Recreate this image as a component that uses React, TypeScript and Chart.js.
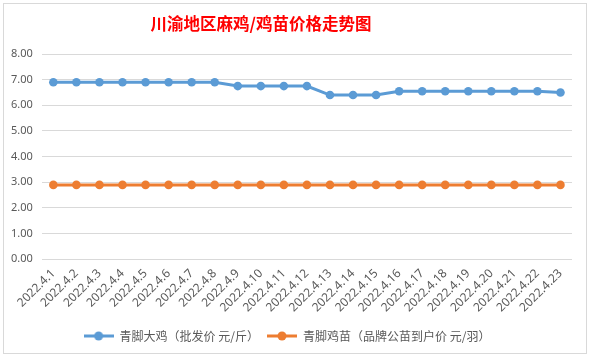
import React, { useEffect, useRef } from "react";
import { Chart, registerables } from "chart.js";

Chart.register(...registerables);

const titleText = "川渝地区麻鸡/鸡苗价格走势图";
const categories = [
  "2022.4.1", "2022.4.2", "2022.4.3", "2022.4.4", "2022.4.5", "2022.4.6",
  "2022.4.7", "2022.4.8", "2022.4.9", "2022.4.10", "2022.4.11", "2022.4.12",
  "2022.4.13", "2022.4.14", "2022.4.15", "2022.4.16", "2022.4.17", "2022.4.18",
  "2022.4.19", "2022.4.20", "2022.4.21", "2022.4.22", "2022.4.23",
];
const seriesNames = ["青脚大鸡（批发价 元/斤）", "青脚鸡苗（品牌公苗到户价 元/羽）"];
const bigChicken = [
  6.9, 6.9, 6.9, 6.9, 6.9, 6.9, 6.9, 6.9, 6.75, 6.75, 6.75, 6.75,
  6.4, 6.4, 6.4, 6.55, 6.55, 6.55, 6.55, 6.55, 6.55, 6.55, 6.5,
];
const chicks = [
  2.9, 2.9, 2.9, 2.9, 2.9, 2.9, 2.9, 2.9, 2.9, 2.9, 2.9, 2.9,
  2.9, 2.9, 2.9, 2.9, 2.9, 2.9, 2.9, 2.9, 2.9, 2.9, 2.9,
];
const colors = ["#5b9bd5", "#ed7d31"];

function legendIcon(color: string): HTMLCanvasElement {
  const c = document.createElement("canvas");
  c.width = 30;
  c.height = 10;
  const ctx = c.getContext("2d")!;
  ctx.strokeStyle = color;
  ctx.lineWidth = 3;
  ctx.beginPath();
  ctx.moveTo(0, 5);
  ctx.lineTo(30, 5);
  ctx.stroke();
  ctx.fillStyle = color;
  ctx.beginPath();
  ctx.arc(15, 5, 4.5, 0, Math.PI * 2);
  ctx.fill();
  return c;
}

const titlePlugin = {
  id: "customTitle",
  afterDraw(chart: any) {
    const ctx = chart.ctx;
    ctx.save();
    ctx.font = "bold 16.5px 'Noto Sans CJK SC', serif";
    ctx.fillStyle = "#ff0000";
    ctx.textAlign = "center";
    ctx.textBaseline = "middle";
    ctx.fillText(titleText, 261, 24);
    ctx.restore();
  },
};

export default function App() {
  const ref = useRef<HTMLCanvasElement>(null);
  useEffect(() => {
    document.body.style.margin = "0";
    const icons = colors.map(legendIcon);
    const chart = new Chart(ref.current!, {
      type: "line",
      data: {
        labels: categories,
        datasets: [
          {
            label: seriesNames[0],
            data: bigChicken,
            borderColor: colors[0],
            backgroundColor: colors[0],
            borderWidth: 3,
            pointRadius: 4.3,
            pointBackgroundColor: colors[0],
            pointBorderWidth: 0,
          },
          {
            label: seriesNames[1],
            data: chicks,
            borderColor: colors[1],
            backgroundColor: colors[1],
            borderWidth: 3,
            pointRadius: 4.3,
            pointBackgroundColor: colors[1],
            pointBorderWidth: 0,
          },
        ],
      },
      options: {
        animation: false,
        responsive: false,
        layout: { padding: { top: 54, left: 2, right: 18, bottom: 5 } },
        plugins: {
          title: { display: false },
          tooltip: { enabled: false },
          legend: {
            position: "bottom",
            labels: {
              usePointStyle: true,
              pointStyleWidth: 30,
              color: "#595959",
              font: { size: 12, family: "'Noto Sans CJK SC', sans-serif" },
              padding: 8,
              generateLabels: () =>
                seriesNames.map((n, i) => ({
                  text: n,
                  pointStyle: icons[i] as any,
                  fillStyle: colors[i],
                  strokeStyle: colors[i],
                  lineWidth: 0,
                  hidden: false,
                  datasetIndex: i,
                  fontColor: "#595959",
                })),
            },
          },
        },
        scales: {
          x: {
            offset: true,
            grid: { display: false, drawTicks: false },
            border: { display: false },
            ticks: {
              autoSkip: false,
              maxRotation: 45,
              minRotation: 45,
              color: "#595959",
              padding: 7,
              font: { size: 12, family: "'Noto Sans', sans-serif" },
            },
          },
          y: {
            min: 0,
            max: 8,
            grid: { color: "#d9d9d9", drawTicks: false },
            border: { display: false },
            ticks: {
              stepSize: 1,
              padding: 9,
              color: "#595959",
              font: { size: 11, family: "'Noto Sans', sans-serif" },
              callback: (v: any) => Number(v).toFixed(2),
            },
          },
        },
      },
      plugins: [titlePlugin],
    });
    return () => chart.destroy();
  }, []);
  return (
    <div style={{ position: "fixed", left: 0, top: 0, width: 590, height: 357, background: "#fff" }}>
      <div style={{ position: "absolute", left: 3, top: 3, width: 584, height: 351, border: "1px solid #d9d9d9", boxSizing: "border-box" }} />
      <canvas ref={ref} width={590} height={357} style={{ position: "absolute", left: 0, top: 0 }} />
    </div>
  );
}
